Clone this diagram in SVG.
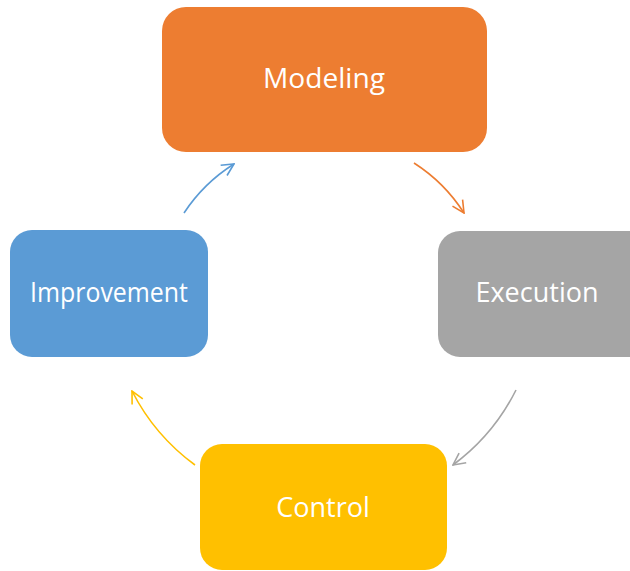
<svg xmlns="http://www.w3.org/2000/svg" width="630" height="571" viewBox="0 0 630 571">
  <style>
    .box { stroke: none; }
    .label { font-family: "Open Sans", "Liberation Sans", sans-serif; font-size: 27px; fill: #ffffff; text-anchor: middle; }
    .link { fill: none; stroke-width: 1.6; }
  </style>
  <defs>
    <marker id="head-blue" viewBox="0 0 14 14" refX="13" refY="7" markerWidth="14" markerHeight="14" markerUnits="userSpaceOnUse" orient="auto">
      <path d="M1,1 L13,7 L1,13" fill="none" stroke="#5B9BD5" stroke-width="1.6"/>
    </marker>
    <marker id="head-orange" viewBox="0 0 14 14" refX="13" refY="7" markerWidth="14" markerHeight="14" markerUnits="userSpaceOnUse" orient="auto">
      <path d="M1,1 L13,7 L1,13" fill="none" stroke="#ED7D31" stroke-width="1.6"/>
    </marker>
    <marker id="head-gray" viewBox="0 0 14 14" refX="13" refY="7" markerWidth="14" markerHeight="14" markerUnits="userSpaceOnUse" orient="auto">
      <path d="M1,1 L13,7 L1,13" fill="none" stroke="#A5A5A5" stroke-width="1.6"/>
    </marker>
    <marker id="head-yellow" viewBox="0 0 14 14" refX="13" refY="7" markerWidth="14" markerHeight="14" markerUnits="userSpaceOnUse" orient="auto">
      <path d="M1,1 L13,7 L1,13" fill="none" stroke="#FFC000" stroke-width="1.6"/>
    </marker>
  </defs>

  <rect width="630" height="571" fill="#ffffff"/>

  <!-- cycle connectors -->
  <g id="connectors">
    <path class="link" stroke="#5B9BD5" marker-end="url(#head-blue)" d="M184,213 A165,165 0 0 1 234,164"/>
    <path class="link" stroke="#ED7D31" marker-end="url(#head-orange)" d="M414,163 A165,165 0 0 1 464,213"/>
    <path class="link" stroke="#A5A5A5" marker-end="url(#head-gray)" d="M516,390 A210,210 0 0 1 453,465"/>
    <path class="link" stroke="#FFC000" marker-end="url(#head-yellow)" d="M195,465 A210,210 0 0 1 132,391"/>
  </g>

  <g id="modeling">
    <rect class="box" x="162" y="7" width="325" height="145" rx="24" fill="#ED7D31"/>
    <text class="label" x="324" y="88" textLength="122" lengthAdjust="spacingAndGlyphs">Modeling</text>
  </g>

  <g id="execution">
    <rect class="box" x="438" y="231" width="220" height="126" rx="22" fill="#A5A5A5"/>
    <text class="label" x="537" y="302">Execution</text>
  </g>

  <g id="control">
    <rect class="box" x="200" y="444" width="247" height="126" rx="22" fill="#FFC000"/>
    <text class="label" x="323" y="517">Control</text>
  </g>

  <g id="improvement">
    <rect class="box" x="10" y="230" width="198" height="127" rx="22" fill="#5B9BD5"/>
    <text class="label" x="109" y="302" textLength="158" lengthAdjust="spacingAndGlyphs">Improvement</text>
  </g>
</svg>
